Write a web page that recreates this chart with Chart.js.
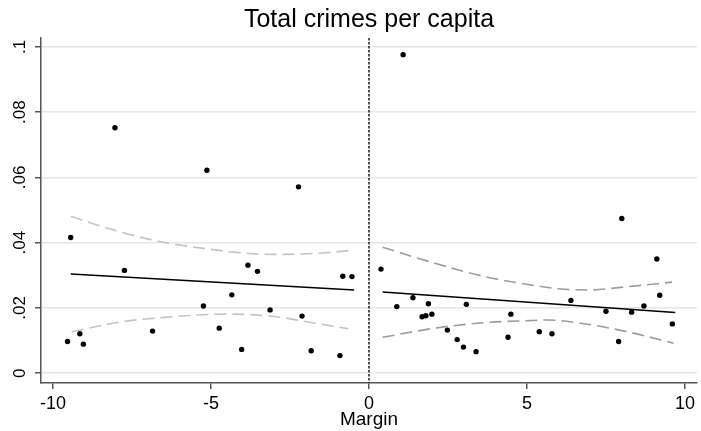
<!DOCTYPE html>
<html>
<head>
<meta charset="utf-8">
<title>Total crimes per capita</title>
<script src="https://cdn.jsdelivr.net/npm/chart.js@4/dist/chart.umd.min.js"></script>
<style>
  html, body { margin: 0; padding: 0; background: #ffffff; }
  #wrap { width: 701px; height: 431px; }
</style>
</head>
<body>
<div id="wrap"><canvas id="chart" width="701" height="431"></canvas></div>
<script>
// Observations below the threshold (margin < 0)
const leftMargin = [-9.44, -9.54, -9.15, -9.04, -7.74, -6.85, -8.04, -5.13, -2.23, -3.83, -3.53,
                    -0.83, -0.54, -4.34, -5.24, -3.13, -2.12, -4.74, -4.03, -1.83, -0.92];
const leftCrimes = [0.0416, 0.0097, 0.0121, 0.0089, 0.0315, 0.0129, 0.0752, 0.0622, 0.0571, 0.0331, 0.0312,
                    0.0297, 0.0296, 0.0240, 0.0206, 0.0194, 0.0175, 0.0138, 0.0073, 0.0069, 0.0054];

// Observations above the threshold (margin > 0)
const rightMargin = [1.08, 0.38, 0.88, 1.39, 1.88, 1.68, 1.80, 1.99, 3.08, 2.48, 2.79, 2.99, 3.39,
                     4.40, 4.49, 8.00, 9.11, 9.20, 6.39, 8.70, 7.50, 8.31, 9.60, 5.39, 5.79, 7.90];
const rightCrimes = [0.0976, 0.0319, 0.0204, 0.0231, 0.0213, 0.0173, 0.0176, 0.0181, 0.0211, 0.0132, 0.0103, 0.0080, 0.0066,
                     0.0110, 0.0181, 0.0474, 0.0350, 0.0239, 0.0223, 0.0206, 0.0190, 0.0187, 0.0151, 0.0127, 0.0121, 0.0097];

// Linear fits on each side: [margin, fitted value] at the ends
const leftFit = [[-9.44, 0.0304], [-0.47, 0.0255]];
const rightFit = [[0.43, 0.0249], [9.69, 0.0186]];

// 95% confidence bands around the fits
const leftCiUpper = [[-9.43, 0.0481], [-8.83, 0.0461], [-6.94, 0.0410], [-5.06, 0.0380], [-3.47, 0.0365],
                     [-2.75, 0.0364], [-1.38, 0.0369], [-0.49, 0.0377]];
const leftCiLower = [[-9.41, 0.0127], [-7.79, 0.0158], [-6.21, 0.0173], [-5.06, 0.0180], [-4.32, 0.0181],
                     [-2.95, 0.0173], [-1.69, 0.0153], [-0.65, 0.0136]];
const rightCiUpper = [[0.43, 0.0386], [2.08, 0.0337], [3.66, 0.0296], [5.02, 0.0272], [6.07, 0.0258],
                      [6.91, 0.0255], [8.17, 0.0265], [9.59, 0.0279]];
const rightCiLower = [[0.43, 0.0110], [2.08, 0.0138], [3.66, 0.0155], [5.02, 0.0161], [5.65, 0.0163],
                      [6.91, 0.0150], [8.17, 0.0127], [9.64, 0.0092]];

// Axis ticks
const xTickValues = [-10, -5, 0, 5, 10];
const xTickLabels = ['-10', '-5', '0', '5', '10'];
const yTickValues = [0, 0.02, 0.04, 0.06, 0.08, 0.1];
const yTickLabels = ['0', '.02', '.04', '.06', '.08', '.1'];

const TITLE = 'Total crimes per capita';
const FONT = "'Liberation Sans', Arial, Helvetica, sans-serif";
const toPoints = (xs, ys) => xs.map((x, i) => ({ x: x, y: ys[i] }));
const pairs = arr => arr.map(p => ({ x: p[0], y: p[1] }));

const lineStyle = (color, dash) => ({
  type: 'line', showLine: true, pointRadius: 0, borderColor: color, borderWidth: 1.6,
  borderDash: dash, fill: false, cubicInterpolationMode: 'monotone'
});

// Title centred over the plot, vertical dotted cutoff at margin = 0, rotated y tick labels
const decorations = {
  id: 'decorations',
  beforeDatasetsDraw(chart) {
    const { ctx, chartArea, scales } = chart;
    const px = scales.x.getPixelForValue(0);
    ctx.save();
    ctx.strokeStyle = '#1a1a1a';
    ctx.lineWidth = 1.5;
    ctx.setLineDash([2.5, 1.5]);
    ctx.beginPath();
    ctx.moveTo(px, chartArea.top);
    ctx.lineTo(px, chartArea.bottom);
    ctx.stroke();
    ctx.restore();
  },
  afterDraw(chart) {
    const { ctx, scales, chartArea } = chart;
    ctx.save();
    ctx.fillStyle = '#000';
    ctx.textAlign = 'center';
    ctx.textBaseline = 'middle';
    ctx.font = '25px ' + FONT;
    ctx.fillText(TITLE, (chartArea.left + chartArea.right) / 2, 20);
    ctx.font = '17px ' + FONT;
    yTickValues.forEach((v, i) => {
      const py = scales.y.getPixelForValue(v);
      ctx.save();
      ctx.translate(20, py);
      ctx.rotate(-Math.PI / 2);
      ctx.fillText(yTickLabels[i], 0, 0);
      ctx.restore();
    });
    ctx.restore();
  }
};

const whiteBg = {
  id: 'whiteBg',
  beforeDraw(chart) {
    const { ctx, width, height } = chart;
    ctx.save();
    ctx.fillStyle = '#ffffff';
    ctx.fillRect(0, 0, width, height);
    ctx.restore();
  }
};

new Chart(document.getElementById('chart'), {
  type: 'scatter',
  data: {
    datasets: [
      { data: toPoints(leftMargin, leftCrimes), pointRadius: 2.7, pointBackgroundColor: '#000', pointBorderWidth: 0 },
      { data: toPoints(rightMargin, rightCrimes), pointRadius: 2.7, pointBackgroundColor: '#000', pointBorderWidth: 0 },
      Object.assign({ data: pairs(leftFit) }, lineStyle('#000000', []), { borderWidth: 1.5 }),
      Object.assign({ data: pairs(rightFit) }, lineStyle('#000000', []), { borderWidth: 1.5 }),
      Object.assign({ data: pairs(leftCiUpper) }, lineStyle('#c4c4c4', [12, 6])),
      Object.assign({ data: pairs(leftCiLower) }, lineStyle('#c4c4c4', [12, 6])),
      Object.assign({ data: pairs(rightCiUpper) }, lineStyle('#9c9c9c', [12, 6])),
      Object.assign({ data: pairs(rightCiLower) }, lineStyle('#9c9c9c', [12, 6]))
    ]
  },
  options: {
    responsive: false,
    animation: false,
    devicePixelRatio: 1,
    layout: { padding: { left: 0, right: 1, top: 38, bottom: 0 } },
    plugins: {
      legend: { display: false },
      tooltip: { enabled: false },
      title: { display: false }
    },
    scales: {
      x: {
        type: 'linear',
        min: -10.38,
        max: 10.38,
        afterBuildTicks(scale) { scale.ticks = xTickValues.map(v => ({ value: v })); },
        afterFit(scale) { scale.height = 48; },
        ticks: {
          color: '#000',
          font: { family: FONT, size: 18 },
          padding: 4,
          maxRotation: 0,
          callback: (v) => xTickLabels[xTickValues.indexOf(v)]
        },
        grid: { drawOnChartArea: false, tickColor: '#555', tickLength: 6, lineWidth: 1.5 },
        border: { display: true, color: '#555', width: 1.5 },
        title: {
          display: true,
          text: 'Margin',
          color: '#000',
          font: { family: FONT, size: 19 },
          padding: { top: 0, bottom: 0 }
        }
      },
      y: {
        type: 'linear',
        min: -0.003,
        max: 0.1027,
        afterBuildTicks(scale) { scale.ticks = yTickValues.map(v => ({ value: v })); },
        afterFit(scale) { scale.width = 41; },
        ticks: { display: false },
        grid: { color: '#e6e6e6', lineWidth: 1.5, tickColor: '#555', tickLength: 6 },
        border: { display: true, color: '#555', width: 1.5 }
      }
    }
  },
  plugins: [whiteBg, decorations]
});
</script>
</body>
</html>
